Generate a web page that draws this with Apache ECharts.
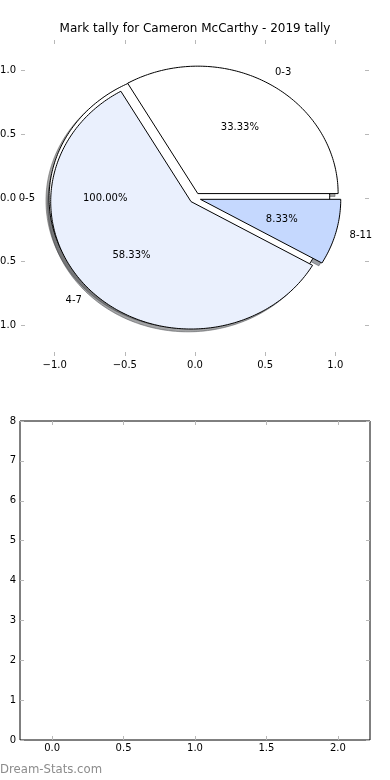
<!DOCTYPE html>
<html>
<head>
<meta charset="utf-8">
<script src="https://cdn.jsdelivr.net/npm/echarts@6/dist/echarts.min.js"></script>
<style>html,body{margin:0;padding:0;background:#fff;}#c{width:390px;height:780px;}</style>
</head>
<body>
<div id="c"></div>
<script>
// ---- data ----
const titleText = 'Mark tally for Cameron McCarthy - 2019 tally';
const mainLabels = ['0-3', '4-7', '8-11'];
const mainValues = [4, 7, 1];
const innerLabels = ['0-5'];
const innerValues = [1];
const pieTicks = [-1, -0.5, 0, 0.5, 1];
const barXTicks = [0, 0.5, 1, 1.5, 2];
const barYTicks = [0, 1, 2, 3, 4, 5, 6, 7, 8];
const barPositions = [];
const barValues = [];
const watermark = 'Dream-Stats.com';

// ---- styles ----
const FONT = 'DejaVu Sans';
const mainColors = ['#ffffff', '#eaf0fd', '#c5d8fe'];
const innerColors = ['#ffffff'];
const explode = 0.04;
const shadowOff = 0.022;

function buildWedges(values, labels, colors) {
  const total = values.reduce((a, b) => a + b, 0);
  let start = 0;
  return values.map((v, i) => {
    const frac = v / total;
    const t1 = start, t2 = start + 360 * frac;
    start = t2;
    const mid = (t1 + t2) / 2 * Math.PI / 180;
    const cx = explode * Math.cos(mid), cy = explode * Math.sin(mid);
    const pts = [];
    const full = (t2 - t1) >= 359.999;
    if (!full) pts.push([cx, cy]);
    const n = Math.max(8, Math.ceil((t2 - t1) / 1));
    for (let k = 0; k <= n; k++) {
      const a = (t1 + (t2 - t1) * k / n) * Math.PI / 180;
      pts.push([cx + Math.cos(a), cy + Math.sin(a)]);
    }
    return {
      pts, color: colors[i], label: labels[i],
      pct: (frac * 100).toFixed(2) + '%',
      lx: cx + 1.1 * Math.cos(mid), ly: cy + 1.1 * Math.sin(mid),
      px: cx + 0.6 * Math.cos(mid), py: cy + 0.6 * Math.sin(mid)
    };
  });
}
const innerWedges = buildWedges(innerValues, innerLabels, innerColors);
const mainWedges = buildWedges(mainValues, mainLabels, mainColors);
const allWedges = innerWedges.concat(mainWedges);

function shadowColor(hex) {
  const r = parseInt(hex.substr(1, 2), 16) * 0.3, g = parseInt(hex.substr(3, 2), 16) * 0.3, b = parseInt(hex.substr(5, 2), 16) * 0.3;
  return 'rgba(' + Math.round(r) + ',' + Math.round(g) + ',' + Math.round(b) + ',0.5)';
}
function fmtSigned(v) { return (v < 0 ? '\u2212' : '') + Math.abs(v).toFixed(1); }

const tickStyle = { show: true, inside: true, length: 4, lineStyle: { color: '#b8b8b8', width: 1 } };
const lblStyle = { fontFamily: FONT, fontSize: 10, color: '#000' };
const noLine = { show: false, onZero: false };

const chart = echarts.init(document.getElementById('c'), null, { renderer: 'canvas' });
const option = {
  animation: false,
  backgroundColor: '#fff',
  title: { text: titleText, left: 'center', top: 23, padding: 0, textStyle: { fontFamily: FONT, fontSize: 12, fontWeight: 'normal', color: '#000' } },
  grid: [
    { left: 21, top: 40, width: 348, height: 316, show: false, outerBoundsMode: 'none', containLabel: false },
    { left: 20, top: 421, width: 350, height: 319, show: true, borderColor: '#000', borderWidth: 1, backgroundColor: 'transparent', outerBoundsMode: 'none', containLabel: false }
  ],
  xAxis: [
    { type: 'value', gridIndex: 0, position: 'bottom', min: -1.24, max: 1.24, axisLine: noLine, splitLine: { show: false },
      axisTick: Object.assign({ customValues: pieTicks }, tickStyle),
      axisLabel: Object.assign({ customValues: pieTicks, margin: 4, formatter: fmtSigned }, lblStyle) },
    { type: 'value', gridIndex: 0, position: 'top', min: -1.24, max: 1.24, axisLine: noLine, splitLine: { show: false },
      axisTick: Object.assign({ customValues: pieTicks }, tickStyle), axisLabel: { show: false } },
    { type: 'value', gridIndex: 1, position: 'bottom', min: -0.225, max: 2.225, axisLine: noLine, splitLine: { show: false },
      axisTick: Object.assign({ customValues: barXTicks }, tickStyle),
      axisLabel: Object.assign({ customValues: barXTicks, margin: 3, formatter: fmtSigned }, lblStyle) },
    { type: 'value', gridIndex: 1, position: 'top', min: -0.225, max: 2.225, axisLine: noLine, splitLine: { show: false },
      axisTick: Object.assign({ customValues: barXTicks }, tickStyle), axisLabel: { show: false } }
  ],
  yAxis: [
    { type: 'value', gridIndex: 0, position: 'left', min: -1.24, max: 1.24, axisLine: noLine, splitLine: { show: false },
      axisTick: Object.assign({ customValues: pieTicks }, tickStyle),
      axisLabel: Object.assign({ customValues: pieTicks, margin: 5, formatter: fmtSigned }, lblStyle) },
    { type: 'value', gridIndex: 0, position: 'right', min: -1.24, max: 1.24, axisLine: noLine, splitLine: { show: false },
      axisTick: Object.assign({ customValues: pieTicks }, tickStyle), axisLabel: { show: false } },
    { type: 'value', gridIndex: 1, position: 'left', min: 0, max: 8, interval: 1, axisLine: noLine, splitLine: { show: false },
      axisTick: Object.assign({ customValues: barYTicks }, tickStyle),
      axisLabel: Object.assign({ customValues: barYTicks, margin: 4, formatter: v => String(v) }, lblStyle) },
    { type: 'value', gridIndex: 1, position: 'right', min: 0, max: 8, interval: 1, axisLine: noLine, splitLine: { show: false },
      axisTick: Object.assign({ customValues: barYTicks }, tickStyle), axisLabel: { show: false } }
  ],
  graphic: [
    { type: 'text', left: 0, top: 764, style: { text: watermark, fontFamily: FONT, fontSize: 11.7, fill: '#8c8c8c' } }
  ],
  series: [
    { type: 'custom', name: 'shadow', xAxisIndex: 0, yAxisIndex: 0, z: 2, silent: true,
      data: allWedges.map((w, i) => [i, 0]),
      renderItem: function (params, api) {
        const w = allWedges[params.dataIndex];
        const pts = w.pts.map(p => api.coord([p[0] - shadowOff, p[1] - shadowOff]));
        const c = shadowColor(w.color);
        return { type: 'polygon', shape: { points: pts }, style: { fill: c, stroke: c, lineWidth: 1 } };
      } },
    { type: 'custom', name: 'inner', xAxisIndex: 0, yAxisIndex: 0, z: 3, silent: true,
      data: innerValues.map((v, i) => [i, v]),
      renderItem: function (params, api) {
        const w = innerWedges[params.dataIndex];
        return { type: 'polygon', shape: { points: w.pts.map(p => api.coord(p)) }, style: { fill: w.color, stroke: '#000', lineWidth: 1 } };
      } },
    { type: 'custom', name: 'main', xAxisIndex: 0, yAxisIndex: 0, z: 4, silent: true,
      data: mainValues.map((v, i) => [i, v]),
      renderItem: function (params, api) {
        const w = mainWedges[params.dataIndex];
        return { type: 'polygon', shape: { points: w.pts.map(p => api.coord(p)) }, style: { fill: w.color, stroke: '#000', lineWidth: 1 } };
      } },
    { type: 'custom', name: 'labels', xAxisIndex: 0, yAxisIndex: 0, z: 6, silent: true,
      data: allWedges.map((w, i) => [i, 0]),
      renderItem: function (params, api) {
        const w = allWedges[params.dataIndex];
        const lp = api.coord([w.lx, w.ly]);
        const pp = api.coord([w.px, w.py]);
        return { type: 'group', children: [
          { type: 'text', x: lp[0], y: lp[1], style: { text: w.label, fontFamily: FONT, fontSize: 10, fill: '#000', textAlign: w.lx > 0 ? 'left' : 'right', textVerticalAlign: 'middle' } },
          { type: 'text', x: pp[0], y: pp[1], style: { text: w.pct, fontFamily: FONT, fontSize: 10, fill: '#000', textAlign: 'center', textVerticalAlign: 'middle' } }
        ] };
      } },
    { type: 'bar', name: 'tally', xAxisIndex: 2, yAxisIndex: 2, data: barPositions.map((x, i) => [x, barValues[i]]) }
  ]
};
chart.setOption(option);
</script>
</body>
</html>
